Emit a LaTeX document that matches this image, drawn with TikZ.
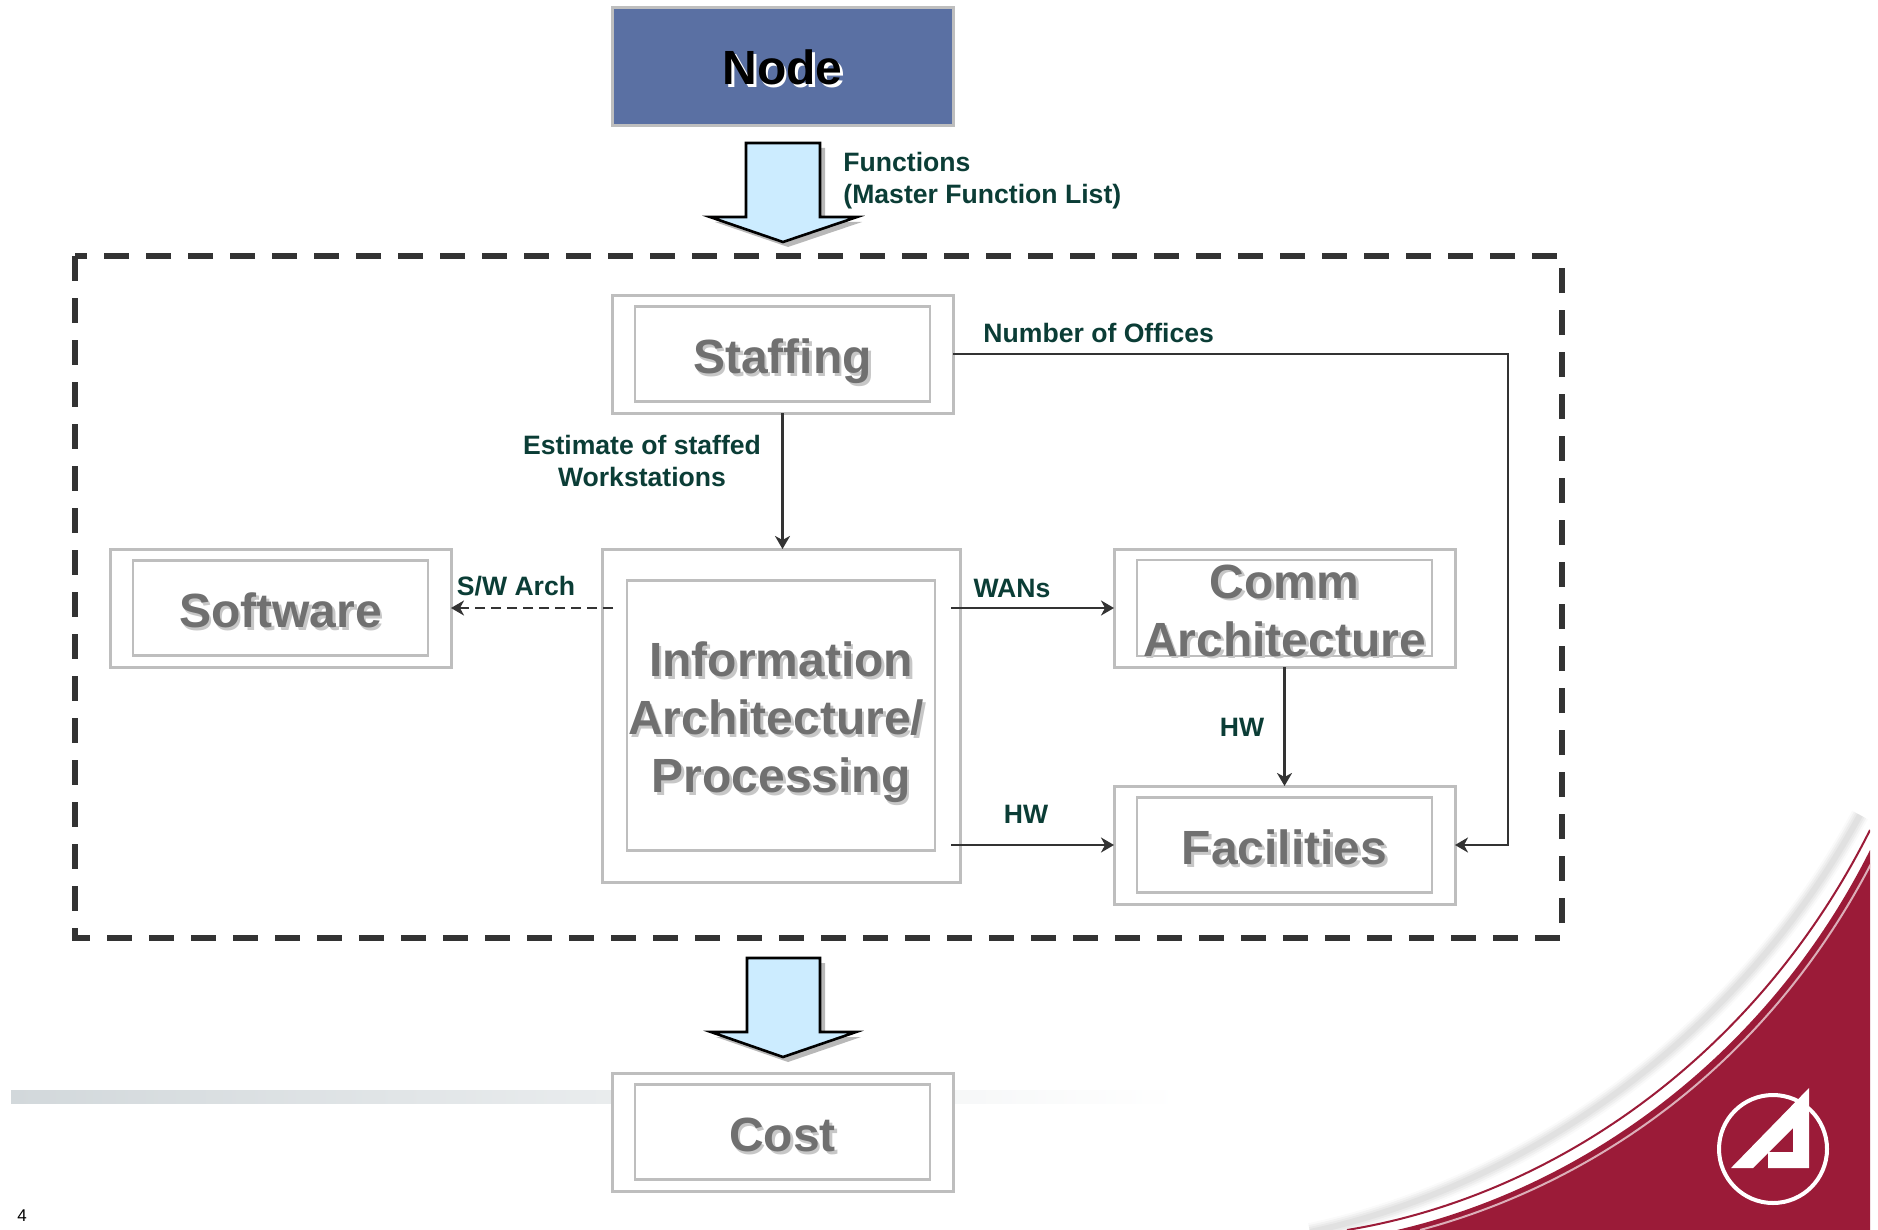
\documentclass[tikz,border=0pt]{standalone}
\usepackage{fontspec}
\setmainfont{Liberation Sans}
\usepackage{tikz}
\usetikzlibrary{arrows.meta}
\usetikzlibrary{positioning}
\definecolor{boxgray}{HTML}{BEBEBE}
\definecolor{textgray}{HTML}{707070}
\definecolor{labelgreen}{HTML}{0B3D36}
\definecolor{linedark}{HTML}{333333}
\definecolor{nodeblue}{HTML}{5A70A3}
\definecolor{arrowblue}{HTML}{CCECFF}
\definecolor{swooshred}{HTML}{9B1B38}
\definecolor{barshade}{HTML}{D2D8DB}
\newcommand{\droptext}[2][black!22]{\leavevmode\rlap{\kern1.4pt\raisebox{-1.4pt}{\textcolor{#1}{#2}}}#2}
\tikzset{
  outerbox/.style={draw=boxgray, line width=1.5pt, fill=white, outer sep=0pt, minimum width=170.5pt, minimum height=59pt},
  innerbox/.style={draw=boxgray, line width=1.1pt, fill=white, outer sep=0pt, minimum width=147.5pt, minimum height=47.5pt,
    text=textgray, font=\bfseries\fontsize{24}{29}\selectfont, align=center, inner sep=0pt, text height=19.2pt, text depth=0pt},
  flowlabel/.style={text=labelgreen, font=\bfseries\fontsize{13.3}{16}\selectfont, align=center, inner sep=0pt},
  flowline/.style={draw=linedark, line width=1.2pt, -{Stealth[length=6.5pt, width=7.5pt, inset=2pt]}},
  bigarrow/.style={draw=black, line width=1.3pt, fill=arrowblue, line join=miter},
  bigshadow/.style={fill=black!28}
}

\begin{document}
\begin{tikzpicture}[x=0.5pt, y=-0.5pt]
  \useasboundingbox (0,0) rectangle (1878,1230);

  % slide background
  \shade[left color=barshade, right color=white, draw=none] (11,1090) rectangle (1180,1103);
  \begin{scope}
    \clip (0,0) rectangle (1870,1230);
    \foreach \w/\o in {9/0.02, 7/0.03, 5/0.03, 3/0.04}
      \draw[black, line width=\w pt, opacity=\o] (1310,1232) .. controls (1530,1185) and (1740,1035) .. (1860,815);
    \fill[white] (1347,1230) .. controls (1560,1195) and (1760,1050) .. (1870,830) -- (1878,830) -- (1878,1230) -- cycle;
    \draw[swooshred, line width=1pt] (1347,1230) .. controls (1560,1195) and (1760,1050) .. (1870,830);
    \fill[swooshred] (1397,1230) .. controls (1590,1185) and (1770,1050) .. (1870,850) -- (1878,850) -- (1878,1230) -- cycle;
    \draw[white!65!swooshred, line width=1pt] (1420,1230) .. controls (1600,1182) and (1775,1058) .. (1878,850);
  \end{scope}

  % logo
  \draw[white, line width=2pt] (1773,1149) circle [radius=54];
  \fill[white] (1731,1168) -- (1809,1088) -- (1809,1168) -- (1768,1168) -- (1768,1152) -- (1793,1152) -- (1793,1128) -- (1753,1168) -- cycle;

  % page number
  \node[font=\fontsize{8.5}{10}\selectfont, inner sep=0pt] (pagenum) at (22,1216) {4};

  % dashed frame
  \draw[linedark, line width=3pt, dash pattern=on 12.5pt off 8.5pt] (75,256) rectangle (1562,938);

  % boxes
  \node[outerbox, fill=nodeblue, font=\bfseries\fontsize{24}{29}\selectfont, text height=17.7pt, text depth=0pt] (node) at (782.5,67) {\droptext[white]{Node}};
  \node[outerbox, below=84.5pt of node] (staffingout) {};
  \node[innerbox] (staffing) at (staffingout) {\droptext{Staffing}};
  \node[outerbox, minimum width=179pt, minimum height=166.5pt, below=68pt of staffingout, xshift=-0.75pt] (infoout) {};
  \node[innerbox, minimum width=154pt, minimum height=135pt, text height=77pt] (info) at (infoout)
    {\droptext{Information}\\\droptext{Architecture/}\kern4.8pt\\\droptext{Processing}};
  \node[outerbox, left=75.5pt of infoout.north west, anchor=north east] (softwareout) {};
  \node[innerbox] (software) at (softwareout) {\droptext{Software}};
  \node[outerbox, right=77pt of infoout.north east, anchor=north west] (commout) {};
  \node[innerbox, text height=48pt] (comm) at (commout) {\droptext{Comm}\\\droptext{Architecture}};
  \node[outerbox, below=59.5pt of commout] (facilitiesout) {};
  \node[innerbox] (facilities) at (facilitiesout) {\droptext{Facilities}};
  \node[outerbox, below=95.5pt of infoout, xshift=0.75pt] (costout) {};
  \node[innerbox] (cost) at (costout) {\droptext{Cost}};

  % big arrows
  \fill[bigshadow, shift={(5,5)}] (746,143) -- (820,143) -- (820,217) -- (857,217) -- (783,242) -- (710,217) -- (746,217) -- cycle;
  \draw[bigarrow] (746,143) -- (820,143) -- (820,217) -- (857,217) -- (783,242) -- (710,217) -- (746,217) -- cycle;
  \fill[bigshadow, shift={(5,5)}] (747,958) -- (820,958) -- (820,1032) -- (856,1032) -- (783,1057) -- (711,1032) -- (747,1032) -- cycle;
  \draw[bigarrow] (747,958) -- (820,958) -- (820,1032) -- (856,1032) -- (783,1057) -- (711,1032) -- (747,1032) -- cycle;

  % connectors
  \coordinate (swstart) at (613,609);
  \coordinate (wanstart) at (951,609);
  \coordinate (hwstart) at (951,846);
  \coordinate (officebend) at (1508,846);
  \draw[flowline] (staffingout.south) -- (infoout.north -| staffingout.south);
  \draw[flowline, dash pattern=on 5pt off 3pt] (swstart |- softwareout.east) -- (softwareout.east);
  \draw[flowline] (wanstart |- commout.west) -- (commout.west);
  \draw[flowline] (hwstart |- facilitiesout.west) -- (facilitiesout.west);
  \draw[flowline] (commout.south) -- (facilitiesout.north);
  \draw[flowline] (staffingout.east) -| (officebend |- facilitiesout.east) -- (facilitiesout.east);

  % labels
  \node[flowlabel, align=left, anchor=west] (functions) at (843,181) {Functions\\(Master Function List)};
  \node[flowlabel, anchor=west] (offices) at (983,333) {Number of Offices};
  \node[flowlabel] (estimate) at (642,461) {Estimate of staffed\\Workstations};
  \node[flowlabel] (swarch) at (516,586) {S/W Arch};
  \node[flowlabel] (wans) at (1012,588) {WANs};
  \node[flowlabel] (hwinfo) at (1026,814) {HW};
  \node[flowlabel] (hwcomm) at (1242,727) {HW};
\end{tikzpicture}
\end{document}
